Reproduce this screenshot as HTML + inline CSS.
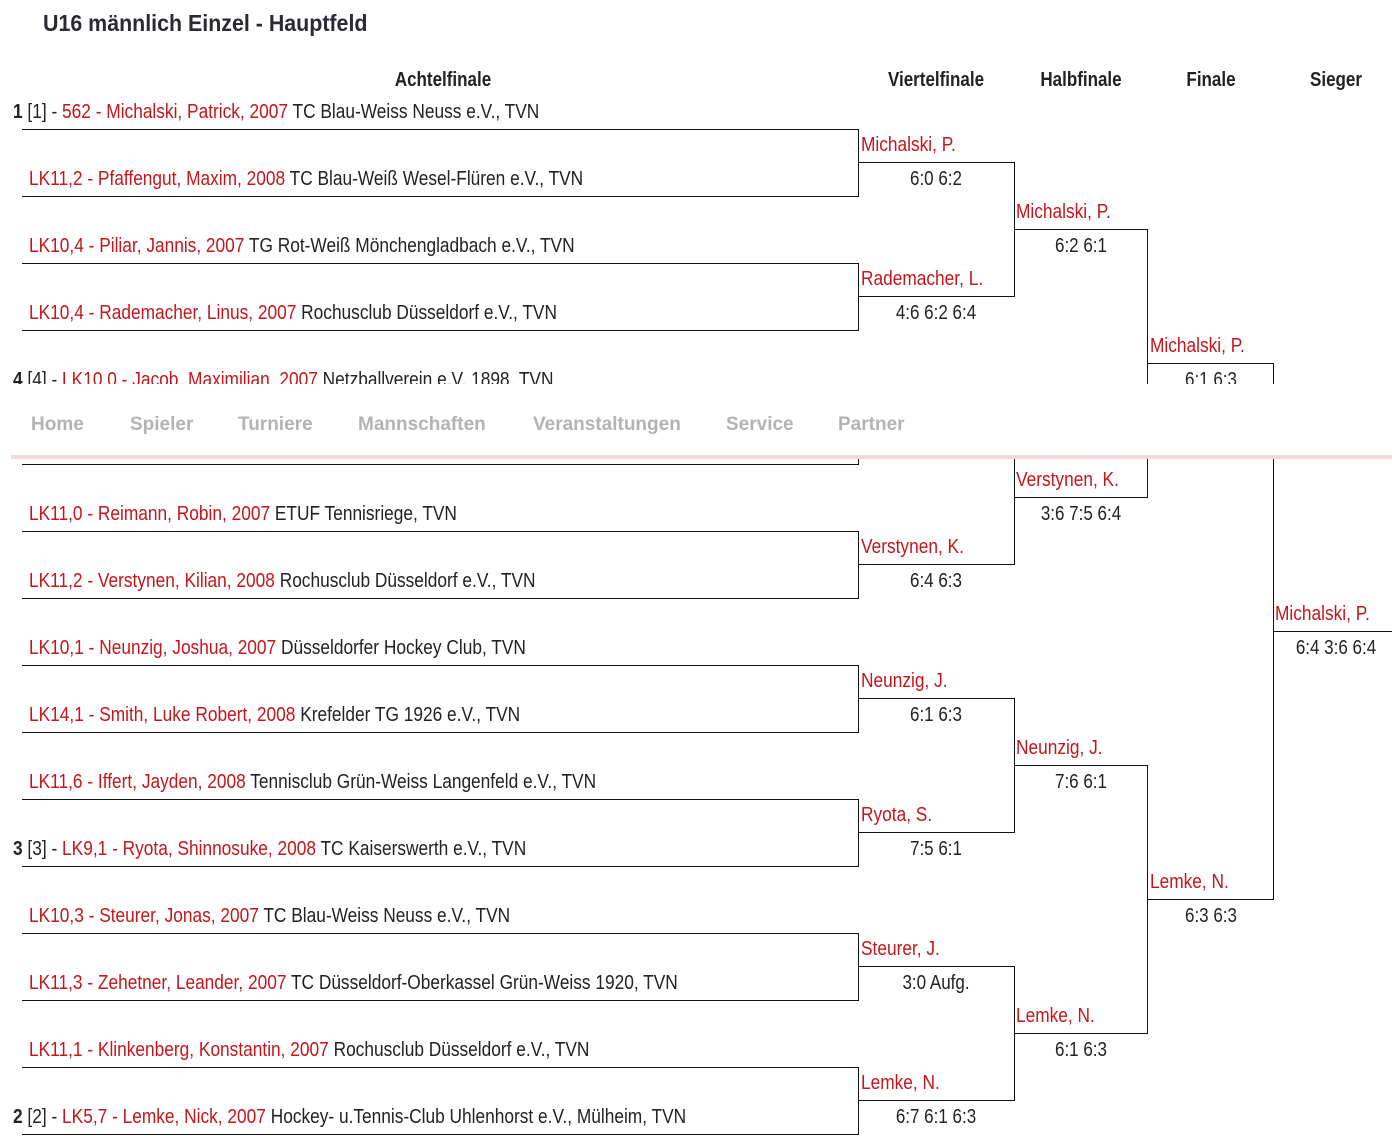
<!DOCTYPE html>
<html><head><meta charset="utf-8"><style>
body{margin:0;width:1392px;height:1145px;background:#fff;position:relative;overflow:hidden;font-family:"Liberation Sans",sans-serif;color:#222}
.t{position:absolute;margin-top:8px;font-size:20px;line-height:20px;white-space:nowrap;transform:scaleX(.865);transform-origin:left top}
.cc{position:absolute;margin-top:8px;font-size:20px;line-height:20px;white-space:nowrap;width:200px;text-align:center;transform:scaleX(.85);transform-origin:center top}
.r{color:#c4161c}
b{font-weight:bold}
.h{font-weight:bold}
#nav{position:absolute;left:0;top:384px;width:1392px;height:71px;background:#fff}
#nav span{position:absolute;top:30px;font-size:19px;font-weight:bold;color:#b3b3b3}
#pink{position:absolute;left:11px;top:455px;width:1381px;height:4px;background:#f3d8da}
</style></head><body>
<div style="position:absolute;left:43px;top:10px;font-size:23px;font-weight:bold;color:#2a2a35;transform:scaleX(.93);transform-origin:left top;white-space:nowrap">U16 männlich Einzel - Hauptfeld</div>

<div class="cc h" style="left:343px;top:62px">Achtelfinale</div>
<div class="cc h" style="left:836px;top:62px">Viertelfinale</div>
<div class="cc h" style="left:981px;top:62px">Halbfinale</div>
<div class="cc h" style="left:1111px;top:62px">Finale</div>
<div class="cc h" style="left:1236px;top:62px">Sieger</div>

<svg style="position:absolute;left:0;top:0" width="1392" height="1145">
<g stroke="#111" stroke-width="1" fill="none" shape-rendering="crispEdges">
<path d="M22 129.5H858.5V196.5H22 M22 263.5H858.5V330.5H22 M22 397.5H858.5V464.5H22 M22 531.5H858.5V598.5H22 M22 665.5H858.5V732.5H22 M22 799.5H858.5V866.5H22 M22 933.5H858.5V1000.5H22 M22 1067.5H858.5V1134.5H22"/>
<path d="M858 162.5H1014.5V296.5H858 M858 430.5H1014.5V564.5H858 M858 698.5H1014.5V832.5H858 M858 966.5H1014.5V1100.5H858"/>
<path d="M1014 229.5H1147.5V497.5H1014 M1014 765.5H1147.5V1033.5H1014"/>
<path d="M1147 363.5H1273.5V899.5H1147"/>
<path d="M1273 631.5H1392"/>
</g></svg>

<div class="t" style="left:13px;top:94px"><b>1</b> [1] - <span class="r">562 - Michalski, Patrick, 2007</span> TC Blau-Weiss Neuss e.V., TVN</div>
<div class="t" style="left:29px;top:161px"><span class="r">LK11,2 - Pfaffengut, Maxim, 2008</span> TC Blau-Weiß Wesel-Flüren e.V., TVN</div>
<div class="t" style="left:29px;top:228px"><span class="r">LK10,4 - Piliar, Jannis, 2007</span> TG Rot-Weiß Mönchengladbach e.V., TVN</div>
<div class="t" style="left:29px;top:295px"><span class="r">LK10,4 - Rademacher, Linus, 2007</span> Rochusclub Düsseldorf e.V., TVN</div>
<div class="t" style="left:13px;top:362px"><b>4</b> [4] - <span class="r">LK10,0 - Jacob, Maximilian, 2007</span> Netzballverein e.V. 1898, TVN</div>
<div class="t" style="left:29px;top:496px"><span class="r">LK11,0 - Reimann, Robin, 2007</span> ETUF Tennisriege, TVN</div>
<div class="t" style="left:29px;top:563px"><span class="r">LK11,2 - Verstynen, Kilian, 2008</span> Rochusclub Düsseldorf e.V., TVN</div>
<div class="t" style="left:29px;top:630px"><span class="r">LK10,1 - Neunzig, Joshua, 2007</span> Düsseldorfer Hockey Club, TVN</div>
<div class="t" style="left:29px;top:697px"><span class="r">LK14,1 - Smith, Luke Robert, 2008</span> Krefelder TG 1926 e.V., TVN</div>
<div class="t" style="left:29px;top:764px"><span class="r">LK11,6 - Iffert, Jayden, 2008</span> Tennisclub Grün-Weiss Langenfeld e.V., TVN</div>
<div class="t" style="left:13px;top:831px"><b>3</b> [3] - <span class="r">LK9,1 - Ryota, Shinnosuke, 2008</span> TC Kaiserswerth e.V., TVN</div>
<div class="t" style="left:29px;top:898px"><span class="r">LK10,3 - Steurer, Jonas, 2007</span> TC Blau-Weiss Neuss e.V., TVN</div>
<div class="t" style="left:29px;top:965px"><span class="r">LK11,3 - Zehetner, Leander, 2007</span> TC Düsseldorf-Oberkassel Grün-Weiss 1920, TVN</div>
<div class="t" style="left:29px;top:1032px"><span class="r">LK11,1 - Klinkenberg, Konstantin, 2007</span> Rochusclub Düsseldorf e.V., TVN</div>
<div class="t" style="left:13px;top:1099px"><b>2</b> [2] - <span class="r">LK5,7 - Lemke, Nick, 2007</span> Hockey- u.Tennis-Club Uhlenhorst e.V., Mülheim, TVN</div>

<div class="t r" style="left:861px;top:127px">Michalski, P.</div><div class="cc" style="left:836px;top:161px">6:0 6:2</div>
<div class="t r" style="left:861px;top:261px">Rademacher, L.</div><div class="cc" style="left:836px;top:295px">4:6 6:2 6:4</div>
<div class="t r" style="left:861px;top:529px">Verstynen, K.</div><div class="cc" style="left:836px;top:563px">6:4 6:3</div>
<div class="t r" style="left:861px;top:663px">Neunzig, J.</div><div class="cc" style="left:836px;top:697px">6:1 6:3</div>
<div class="t r" style="left:861px;top:797px">Ryota, S.</div><div class="cc" style="left:836px;top:831px">7:5 6:1</div>
<div class="t r" style="left:861px;top:931px">Steurer, J.</div><div class="cc" style="left:836px;top:965px">3:0 Aufg.</div>
<div class="t r" style="left:861px;top:1065px">Lemke, N.</div><div class="cc" style="left:836px;top:1099px">6:7 6:1 6:3</div>

<div class="t r" style="left:1016px;top:194px">Michalski, P.</div><div class="cc" style="left:981px;top:228px">6:2 6:1</div>
<div class="t r" style="left:1016px;top:462px">Verstynen, K.</div><div class="cc" style="left:981px;top:496px">3:6 7:5 6:4</div>
<div class="t r" style="left:1016px;top:730px">Neunzig, J.</div><div class="cc" style="left:981px;top:764px">7:6 6:1</div>
<div class="t r" style="left:1016px;top:998px">Lemke, N.</div><div class="cc" style="left:981px;top:1032px">6:1 6:3</div>

<div class="t r" style="left:1150px;top:328px">Michalski, P.</div><div class="cc" style="left:1111px;top:362px">6:1 6:3</div>
<div class="t r" style="left:1150px;top:864px">Lemke, N.</div><div class="cc" style="left:1111px;top:898px">6:3 6:3</div>

<div class="t r" style="left:1275px;top:596px">Michalski, P.</div><div class="cc" style="left:1236px;top:630px">6:4 3:6 6:4</div>

<div id="nav">
<span style="left:31px">Home</span><span style="left:130px">Spieler</span><span style="left:238px">Turniere</span><span style="left:358px">Mannschaften</span><span style="left:533px">Veranstaltungen</span><span style="left:726px">Service</span><span style="left:838px">Partner</span>
</div>
<div id="pink"></div>
</body></html>
